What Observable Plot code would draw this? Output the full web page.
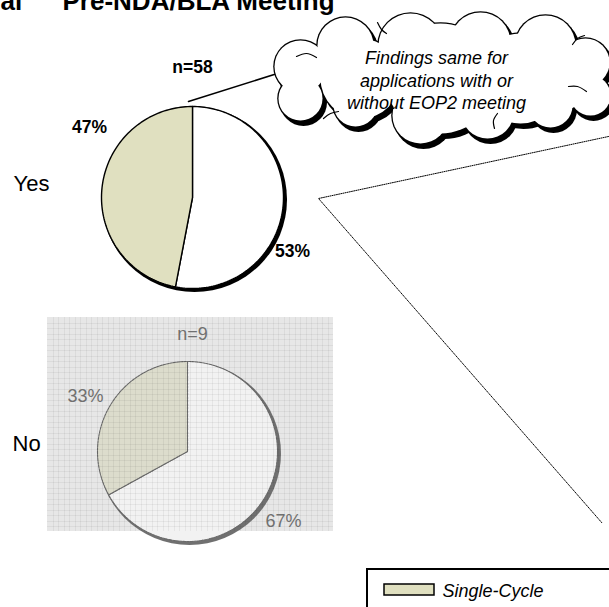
<!DOCTYPE html>
<html><head><meta charset="utf-8">
<script src="https://cdn.jsdelivr.net/npm/d3@7"></script>
<script src="https://cdn.jsdelivr.net/npm/@observablehq/plot@0.6"></script>
<style>html,body{margin:0;padding:0;background:#fff;overflow:hidden;}</style>
</head><body><div id="chart"></div>
<script>
// ---------------- data ----------------
const groups = ["Yes", "No"];
const sampleSizes = [58, 9];
const singleCyclePct = [47, 33];
const otherPct = [53, 67];
const legendLabels = ["Single-Cycle"];
const titleParts = ["al", "Pre-NDA/BLA Meeting"];
const calloutText = ["Findings same for", "applications with or", "without EOP2 meeting"];

// ---------------- layout / style ----------------
const W = 609, H = 607;
const FONT = "Liberation Sans, Arial, Helvetica, sans-serif";
const SINGLE_COLOR = ["#e0e0c0", "#dcdccc"];
const OTHER_COLOR = ["#ffffff", "#f2f2f2"];
const pieLayout = [
  {cx: 192, cy: 197, r: 91, label: [13, 190], n: [192, 72], single: [89, 132], other: [292, 256],
   stroke: "#000", dash: null, textColor: "#000", weight: "bold", shadow: "#000", size: 17.5},
  {cx: 187, cy: 451, r: 90, label: [12, 450], n: [192, 339], single: [85, 401], other: [283, 526],
   stroke: "#6a6a6a", dash: "2.5,1", textColor: "#707070", weight: "normal", shadow: "#707070", size: 18}
];
const panel = {x1: 47, x2: 333, y1: 317, y2: 531, step: 5.5};
const cloudBumps = [
  [300, 66, 26], [300, 98, 22], [345, 45, 28], [410, 45, 32], [480, 42, 30], [545, 45, 30],
  [585, 62, 24], [590, 95, 20], [550, 105, 22], [487, 112, 26], [420, 115, 28], [355, 104, 22],
  [440, 78, 55], [360, 78, 40], [520, 78, 45], [560, 80, 30]
];
// short inner strokes where the cloud's lobes meet
const cloudHooks = [
  [[296, 56], [306, 53], [316, 57]],
  [[323, 118], [330, 113], [338, 111]],
  [[494, 128], [493, 120], [497, 113]],
  [[568, 86], [577, 86], [586, 91]],
  [[572, 44], [577, 38], [584, 35]],
  [[377, 22], [381, 29], [386, 33]]
];
const cloudTail = [[188, 101], [280, 72]];
const cloudTextPos = {x: 436, y: [63, 86, 108], size: 18};
const zoomLines = [[608, 136], [318, 198], [602, 523]];
const legendBox = {x1: 367, x2: 640, y1: 569, y2: 640, sw: [384, 434, 584, 595], tx: 442, ty: 596};

// ---------------- helpers ----------------
function slicePolygon(cx, cy, r, a0, a1) {
  const pts = [{x: cx, y: cy}];
  const n = Math.max(2, Math.ceil((a1 - a0) / (Math.PI / 120)));
  for (let i = 0; i <= n; i++) {
    const a = a0 + (a1 - a0) * i / n;
    pts.push({x: cx + r * Math.sin(a), y: cy - r * Math.cos(a)});
  }
  pts.push({x: cx, y: cy});
  return pts;
}

const marks = [];

// background panel for the "No" pie
marks.push(Plot.rect([panel], {x1: "x1", x2: "x2", y1: "y1", y2: "y2", fill: "#e7e7e7"}));

// pies
groups.forEach((g, i) => {
  const L = pieLayout[i];
  const arcs = d3.pie().sort(null).value(d => d.value)([
    {key: "other", value: otherPct[i]},
    {key: "single", value: singleCyclePct[i]}
  ]);
  marks.push(Plot.dot([L], {x: d => d.cx + 2, y: d => d.cy + 2, r: d => d.r + 1.5, fill: L.shadow,
    stroke: "none"}));
  arcs.forEach(a => {
    const pts = slicePolygon(L.cx, L.cy, L.r, a.startAngle, a.endAngle);
    marks.push(Plot.line(pts, {x: "x", y: "y",
      fill: a.data.key === "single" ? SINGLE_COLOR[i] : OTHER_COLOR[i],
      stroke: L.stroke, strokeWidth: i === 0 ? 1.4 : 1.1, strokeDasharray: L.dash, curve: "linear"}));
  });
});

// grid overlay over the "No" panel
const gx = d3.range(panel.x1 + panel.step, panel.x2, panel.step).map(Math.round);
const gy = d3.range(panel.y1 + panel.step, panel.y2, panel.step).map(Math.round);
marks.push(Plot.ruleX(gx, {x: d => d, y1: panel.y1, y2: panel.y2, stroke: "#000", strokeOpacity: 0.05}));
marks.push(Plot.ruleY(gy, {y: d => d, x1: panel.x1, x2: panel.x2, stroke: "#000", strokeOpacity: 0.05}));

// pie texts
groups.forEach((g, i) => {
  const L = pieLayout[i];
  const items = [
    {x: L.label[0], y: L.label[1], t: g, anchor: "start", size: 22, weight: "normal", color: "#000"},
    {x: L.n[0], y: L.n[1], t: "n=" + sampleSizes[i], anchor: "middle", size: L.size, weight: L.weight, color: L.textColor},
    {x: L.single[0], y: L.single[1], t: singleCyclePct[i] + "%", anchor: "middle", size: L.size, weight: L.weight, color: L.textColor},
    {x: L.other[0], y: L.other[1], t: otherPct[i] + "%", anchor: "middle", size: L.size, weight: L.weight, color: L.textColor}
  ];
  items.forEach(it => marks.push(Plot.text([it], {x: "x", y: "y", text: "t", textAnchor: it.anchor,
    lineAnchor: "bottom", fontSize: it.size, fontWeight: it.weight, fill: it.color})));
});

// title (its upper part lies above the page, as in the source)
marks.push(Plot.text([{x: 0, t: titleParts[0]}, {x: 62, t: titleParts[1]}], {x: "x", y: () => 9, text: "t",
  textAnchor: "start", lineAnchor: "bottom", fontSize: 26, fontWeight: "bold", fill: "#000"}));

// callout cloud
marks.push(Plot.line(cloudTail.map(([x, y]) => ({x, y})), {x: "x", y: "y", stroke: "#000", strokeWidth: 1.5}));
const bumps = cloudBumps.map(([x, y, r]) => ({x, y, r}));
marks.push(Plot.dot(bumps, {x: d => d.x + 3, y: d => d.y + 4, r: d => d.r + 1.5, fill: "#000", stroke: "none"}));
marks.push(Plot.dot(bumps, {x: "x", y: "y", r: d => d.r + 1.3, fill: "#000", stroke: "none"}));
marks.push(Plot.dot(bumps, {x: "x", y: "y", r: "r", fill: "#fff", stroke: "none"}));
cloudHooks.forEach(h => marks.push(Plot.line(h.map(([x, y]) => ({x, y})), {x: "x", y: "y", stroke: "#000",
  strokeWidth: 1.2, curve: "catmull-rom"})));
marks.push(Plot.text(calloutText.map((t, k) => ({t, y: cloudTextPos.y[k]})), {x: () => cloudTextPos.x, y: "y", text: "t",
  textAnchor: "middle", lineAnchor: "bottom", fontSize: cloudTextPos.size, fontStyle: "italic", fill: "#000"}));

// dotted zoom lines
marks.push(Plot.line(zoomLines.map(([x, y]) => ({x, y})), {x: "x", y: "y", stroke: "#000", strokeWidth: 1,
  strokeDasharray: "1,1.2"}));

// legend
marks.push(Plot.rect([legendBox], {x1: "x1", x2: "x2", y1: "y1", y2: "y2", fill: "#fff", stroke: "#000", strokeWidth: 2}));
marks.push(Plot.rect(legendLabels, {x1: () => legendBox.sw[0], x2: () => legendBox.sw[1], y1: () => legendBox.sw[2],
  y2: () => legendBox.sw[3], fill: SINGLE_COLOR[0], stroke: "#000", strokeWidth: 1.5}));
marks.push(Plot.text(legendLabels, {x: () => legendBox.tx, y: () => legendBox.ty, text: d => d, textAnchor: "start",
  lineAnchor: "bottom", fontSize: 18, fontStyle: "italic", fill: "#000"}));

const chart = Plot.plot({
  width: W, height: H, margin: 0,
  x: {type: "identity", axis: null},
  y: {type: "identity", axis: null},
  r: {type: "identity"},
  style: {fontFamily: FONT, background: "#fff", overflow: "hidden"},
  marks
});
document.getElementById("chart").appendChild(chart);
</script>
</body></html>
